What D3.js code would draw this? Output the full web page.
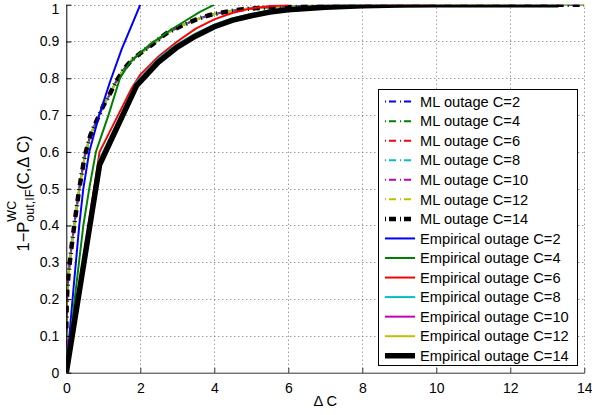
<!DOCTYPE html>
<html><head><meta charset="utf-8">
<script src="https://cdn.jsdelivr.net/npm/d3@7"></script>
<style>body{margin:0;background:#fff}svg{display:block}text{font-family:"Liberation Sans",Arial,Helvetica,sans-serif}</style>
</head><body><svg id="c" width="592" height="415"></svg>
<script>
// ---------- data ----------
const capacities = [2, 4, 6, 8, 10, 12, 14];
const seriesColors = ["#0000ff", "#008000", "#ff0000", "#00bfbf", "#bf00bf", "#bfbf00", "#000000"];
const xTicks = [0, 2, 4, 6, 8, 10, 12, 14];
const xTickLabels = ["0", "2", "4", "6", "8", "10", "12", "14"];
const yTicks = [0, 0.1, 0.2, 0.3, 0.4, 0.5, 0.6, 0.7, 0.8, 0.9, 1];
const yTickLabels = ["0", "0.1", "0.2", "0.3", "0.4", "0.5", "0.6", "0.7", "0.8", "0.9", "1"];
const mlLabels = ["ML outage C=2", "ML outage C=4", "ML outage C=6", "ML outage C=8", "ML outage C=10", "ML outage C=12", "ML outage C=14"];
const empLabels = ["Empirical outage C=2", "Empirical outage C=4", "Empirical outage C=6", "Empirical outage C=8", "Empirical outage C=10", "Empirical outage C=12", "Empirical outage C=14"];

// ML outage curves (shared ΔC grid)
const mlX = [0, 0.01, 0.027, 0.054, 0.1, 0.145, 0.24, 0.35, 0.5, 0.65, 0.82, 1.0, 1.14, 1.34, 1.54, 1.77, 2.0, 2.3, 2.7, 3.16, 3.52, 3.88, 4.33, 4.78, 5.5, 6.5, 8, 10, 12, 14];
const mlY2  = [0.08, 0.17, 0.22, 0.26, 0.305, 0.345, 0.42, 0.5, 0.59, 0.645, 0.685, 0.725, 0.75, 0.79, 0.823, 0.85, 0.868, 0.89, 0.922, 0.945, 0.96, 0.972, 0.981, 0.988, 0.993, 0.997, 0.999, 1, 1, 1];
const mlY4  = [0.06, 0.16, 0.22, 0.26, 0.305, 0.345, 0.42, 0.5, 0.59, 0.645, 0.685, 0.725, 0.75, 0.79, 0.823, 0.85, 0.868, 0.89, 0.922, 0.945, 0.96, 0.972, 0.981, 0.988, 0.993, 0.997, 0.999, 1, 1, 1];
const mlY6  = [0.03, 0.15, 0.215, 0.26, 0.305, 0.345, 0.42, 0.5, 0.59, 0.645, 0.685, 0.725, 0.75, 0.79, 0.823, 0.85, 0.868, 0.89, 0.922, 0.945, 0.96, 0.972, 0.981, 0.988, 0.993, 0.997, 0.999, 1, 1, 1];
const mlY8  = [0.05, 0.16, 0.22, 0.26, 0.305, 0.345, 0.42, 0.5, 0.59, 0.645, 0.685, 0.725, 0.75, 0.79, 0.823, 0.85, 0.868, 0.89, 0.922, 0.945, 0.96, 0.972, 0.981, 0.988, 0.993, 0.997, 0.999, 1, 1, 1];
const mlY10 = [0.07, 0.17, 0.22, 0.26, 0.305, 0.345, 0.42, 0.5, 0.59, 0.645, 0.685, 0.725, 0.75, 0.79, 0.823, 0.85, 0.868, 0.89, 0.922, 0.945, 0.96, 0.972, 0.981, 0.988, 0.993, 0.997, 0.999, 1, 1, 1];
const mlY12 = [0.09, 0.175, 0.225, 0.26, 0.305, 0.345, 0.42, 0.5, 0.59, 0.645, 0.685, 0.725, 0.75, 0.79, 0.823, 0.85, 0.868, 0.89, 0.922, 0.945, 0.96, 0.972, 0.981, 0.988, 0.993, 0.997, 0.999, 1, 1, 1];
const mlY14 = [0.12, 0.18, 0.225, 0.26, 0.305, 0.345, 0.42, 0.5, 0.59, 0.645, 0.685, 0.725, 0.75, 0.79, 0.823, 0.85, 0.868, 0.89, 0.922, 0.945, 0.96, 0.972, 0.981, 0.988, 0.993, 0.997, 0.999, 1, 1, 1];

// Empirical outage curves
const empX2  = [0, 0.1, 0.2, 0.35, 0.46, 0.62, 0.89, 1.18, 1.5, 1.75, 2];
const empY2  = [0, 0.12, 0.235, 0.4, 0.5, 0.6, 0.7, 0.79, 0.88, 0.94, 1];
const empX4  = [0, 0.25, 0.46, 0.62, 0.8, 1.14, 1.45, 1.7, 1.95, 2.3, 2.8, 3.2, 3.6, 4];
const empY4  = [0, 0.22, 0.4, 0.5, 0.6, 0.7, 0.8, 0.84, 0.865, 0.895, 0.93, 0.955, 0.98, 1];
const empX6  = [0, 0.9, 1.4, 1.75, 2.0, 2.5, 3.0, 3.5, 4.0, 4.5, 5.0, 5.5, 6];
const empY6  = [0, 0.6, 0.7, 0.77, 0.81, 0.86, 0.9, 0.935, 0.96, 0.978, 0.99, 0.996, 1];
const empX8  = [0, 0.9, 1.9, 2.5, 3, 3.5, 4, 4.5, 5, 5.5, 6, 7, 8];
const empY8  = [0, 0.58, 0.79, 0.855, 0.893, 0.922, 0.946, 0.963, 0.975, 0.984, 0.99, 0.996, 1];
const empX10 = [0, 0.9, 1.9, 2.5, 3, 3.5, 4, 4.5, 5, 6, 7, 8, 9, 10];
const empY10 = [0, 0.572, 0.784, 0.848, 0.888, 0.918, 0.942, 0.96, 0.972, 0.987, 0.994, 0.997, 0.999, 1];
const empX12 = [0, 0.9, 1.9, 2.5, 3, 3.5, 4, 4.5, 5, 6, 7, 8, 9, 10, 12];
const empY12 = [0, 0.568, 0.782, 0.846, 0.886, 0.916, 0.941, 0.959, 0.971, 0.986, 0.993, 0.997, 0.999, 1, 1];
const empX14 = [0, 0.9, 1.9, 2.5, 3, 3.5, 4, 4.5, 5, 5.5, 6, 7, 8, 9, 10, 13.3];
const empY14 = [0, 0.565, 0.78, 0.845, 0.885, 0.915, 0.94, 0.958, 0.97, 0.98, 0.986, 0.993, 0.997, 0.999, 1, 1];

const mlYs = [mlY2, mlY4, mlY6, mlY8, mlY10, mlY12, mlY14];
const empXs = [empX2, empX4, empX6, empX8, empX10, empX12, empX14];
const empYs = [empY2, empY4, empY6, empY8, empY10, empY12, empY14];

// ---------- layout ----------
const svg = d3.select("#c");
const L = 66.3, R = 584.3, T = 4.7, B = 372.7;
const x = d3.scaleLinear().domain([0, 14]).range([L, R]);
const y = d3.scaleLinear().domain([0, 1]).range([B, T]);

svg.append("rect").attr("width", 592).attr("height", 415).attr("fill", "#fff");

// grid
const grid = svg.append("g").attr("stroke", "#707070").attr("stroke-width", 1).attr("stroke-dasharray", "1,3");
grid.selectAll("line.gx").data(xTicks.slice(1)).join("line")
  .attr("x1", d => Math.round(x(d)) + 0.5).attr("x2", d => Math.round(x(d)) + 0.5)
  .attr("y1", B).attr("y2", T);
grid.selectAll("line.gy").data(yTicks.slice(1)).join("line")
  .attr("y1", d => Math.round(y(d)) + 0.5).attr("y2", d => Math.round(y(d)) + 0.5)
  .attr("x1", L).attr("x2", R);

// clip
svg.append("clipPath").attr("id", "pc").append("rect")
  .attr("x", L).attr("y", T).attr("width", R - L).attr("height", B - T);
const plot = svg.append("g").attr("clip-path", "url(#pc)");
const line = d3.line().x(d => x(d[0])).y(d => y(d[1]));

// ML curves (dash-dot)
capacities.forEach((c, i) => {
  const pts = mlX.map((v, k) => [v, mlYs[i][k]]);
  plot.append("path").attr("d", line(pts)).attr("fill", "none")
    .attr("stroke", seriesColors[i])
    .attr("stroke-width", c === 14 ? 4.5 : 2)
    .attr("stroke-dasharray", "7,4,1,4")
    .attr("stroke-linejoin", "round");
});
// Empirical curves (solid)
capacities.forEach((c, i) => {
  const pts = empXs[i].map((v, k) => [v, empYs[i][k]]);
  plot.append("path").attr("d", line(pts)).attr("fill", "none")
    .attr("stroke", seriesColors[i])
    .attr("stroke-width", c === 14 ? 5.5 : 2)
    .attr("stroke-linejoin", "round");
});

// axes
const xAxis = d3.axisBottom(x).tickValues(xTicks).tickFormat((d, i) => xTickLabels[i]).tickSizeInner(-5).tickSizeOuter(0).tickPadding(10);
const gx = svg.append("g").attr("transform", `translate(0,${B})`).call(xAxis);
gx.select(".domain").attr("stroke", "#333");
gx.selectAll(".tick line").attr("stroke", "#333");
gx.selectAll("text").attr("font-size", 14).attr("fill", "#000").attr("font-family", "Liberation Sans, Arial, sans-serif");

const yAxis = d3.axisLeft(y).tickValues(yTicks).tickFormat((d, i) => yTickLabels[i]).tickSizeInner(-5).tickSizeOuter(0).tickPadding(7);
const gy = svg.append("g").attr("transform", `translate(${L},0)`).call(yAxis);
gy.select(".domain").attr("stroke", "#000");
gy.selectAll(".tick line").attr("stroke", "#000");
gy.selectAll("text").attr("font-size", 14).attr("fill", "#000").attr("font-family", "Liberation Sans, Arial, sans-serif")
  .attr("dy", (d) => d === 1 ? "0.62em" : "0.32em");

// x label
svg.append("text").attr("x", (L + R) / 2).attr("y", 406).attr("text-anchor", "middle")
  .attr("font-size", 14.67).text("Δ C");

// y label (rotated, built from pieces)
const yl = svg.append("g").attr("transform", "translate(29,193.5) rotate(-90)");
function piece(txt, fs, dy) {
  return yl.append("text").attr("font-size", fs).attr("y", dy).text(txt);
}
const p1 = piece("1−P", 16.5, 0);
const pSup = piece("WC", 12.5, -13);
const pSub = piece("out,IF", 12.5, 4.5);
const p2 = piece("(C,Δ C)", 16.5, 0);
const w1 = p1.node().getComputedTextLength();
const wSup = pSup.node().getComputedTextLength();
const wSub = pSub.node().getComputedTextLength();
const w2 = p2.node().getComputedTextLength();
const wMid = Math.max(wSup, wSub);
const total = w1 + wMid + w2;
const x0 = -total / 2;
p1.attr("x", x0);
pSup.attr("x", x0 + w1);
pSub.attr("x", x0 + w1);
p2.attr("x", x0 + w1 + wMid);

// legend
const lg = svg.append("g");
lg.append("rect").attr("x", 378.5).attr("y", 89.5).attr("width", 199).attr("height", 276)
  .attr("fill", "#fff").attr("stroke", "#000").attr("stroke-width", 1);
const allLabels = mlLabels.concat(empLabels);
allLabels.forEach((lab, j) => {
  const i = j % 7;
  const isML = j < 7;
  const yy = 101.6 + j * 19.55;
  lg.append("line").attr("x1", 385).attr("x2", 415).attr("y1", yy).attr("y2", yy)
    .attr("stroke", seriesColors[i])
    .attr("stroke-width", capacities[i] === 14 ? (isML ? 4.5 : 5.5) : 2)
    .attr("stroke-dasharray", isML ? "1,3,7,4" : null);
  lg.append("text").attr("x", 420).attr("y", yy + 5.2).attr("font-size", 14.67).text(lab);
});
</script></body></html>
